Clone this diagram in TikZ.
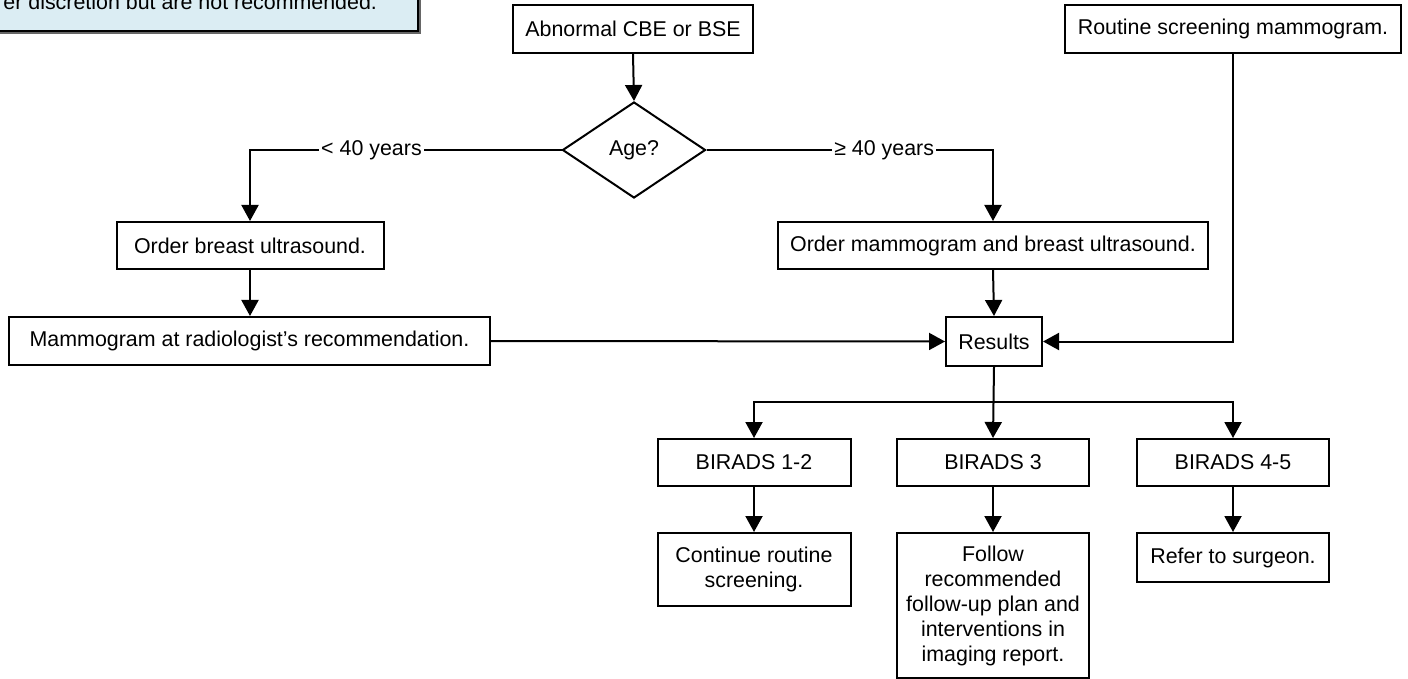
\documentclass[tikz,border=0pt]{standalone}
\usepackage{fontspec}
\setmainfont{Liberation Sans}
\usetikzlibrary{arrows.meta,shapes.geometric}

\definecolor{notefill}{RGB}{219,237,243}

\tikzset{
  box/.style={draw, line width=1pt, fill=white, align=center, inner sep=0pt},
  flow/.style={line width=1pt, -{Triangle[length=8pt,width=8.5pt]}},
  lbl/.style={fill=white, inner xsep=1pt, inner ysep=1pt},
}

\begin{document}
\begin{tikzpicture}[x=0.5pt, y=-0.5pt, font=\fontsize{10.7}{12.5}\selectfont]
	%%%%% START %%%%%
	\useasboundingbox (0,0) rectangle (1408,679);
	
	% note, cut at the top
	\fill[black!60] (-20,-60) rectangle (421,34);
	\draw[line width=1pt, fill=notefill] (-20,-60) rectangle (418,31);
	\node[anchor=base east] (note) at (384,10) {er discretion but are not recommended.};
	
	\node[box, minimum width=120pt, minimum height=24pt] (abn) at (633,29) {Abnormal CBE or BSE};
	\node[box, shape=diamond, minimum width=71.5pt, minimum height=48pt] (age) at (634,150) {Age?};
	\node[box, minimum width=168pt, minimum height=24pt] (rsm) at (1233,29) {Routine screening mammogram.};
	
	\node[box, minimum width=133.5pt, minimum height=23.5pt] (obu) at (250,245.5) {Order breast ultrasound.};
	\node[box, minimum width=215pt, minimum height=23.5pt] (omb) at (993,245.5) {Order mammogram and breast ultrasound.};
	
	\node[box, minimum width=240.5pt, minimum height=24pt] (mam) at (249.5,341) {Mammogram at radiologist’s recommendation.};
	\node[box, minimum width=48pt, minimum height=24.5pt] (res) at (994,341.5) {Results};
	
	\node[box, minimum width=96.5pt, minimum height=23.5pt] (b12) at (754,462.5) {BIRADS 1-2};
	\node[box, minimum width=96pt, minimum height=23.5pt] (b3) at (993,462.5) {BIRADS 3};
	\node[box, minimum width=96pt, minimum height=23.5pt] (b45) at (1233,462.5) {BIRADS 4-5};
	
	\node[box, minimum width=96.5pt, minimum height=36.5pt] (crs) at (754,569.5) {Continue routine\\screening.};
	\node[box, minimum width=96pt, minimum height=72.5pt] (fol) at (993,605.5) {Follow\\recommended\\follow-up plan and\\interventions in\\imaging report.};
	\node[box, minimum width=96pt, minimum height=24.5pt] (ref) at (1233,557.5) {Refer to surgeon.};
	
	\coordinate (split) at (994,402);
	
	% arrows
	\draw[flow] (abn.south) -- (age.north);
	\draw[flow] (age.west) -- node[lbl, pos=0.61] (lt40) {< 40 years} (obu.north |- age.west) -- (obu.north);
	\draw[flow] (age.east) -- node[lbl, pos=0.62] (ge40) {≥ 40 years} (omb.north |- age.east) -- (omb.north);
	\draw[flow] (obu.south) -- (mam.north -| obu.south);
	\draw[flow] (omb.south) -- (res.north);
	\draw[flow] (mam.east) -- (res.west);
	\draw[flow] (rsm.south) -- (rsm.south |- res.east) -- (res.east);
	
	\draw[flow] (res.south) -- (b3.north);
	\draw[flow] (split) -| (b12.north);
	\draw[flow] (split) -| (b45.north);
	
	\draw[flow] (b12.south) -- (crs.north);
	\draw[flow] (b3.south) -- (fol.north);
	\draw[flow] (b45.south) -- (ref.north);
	%%%%% END %%%%%
\end{tikzpicture}
\end{document}
